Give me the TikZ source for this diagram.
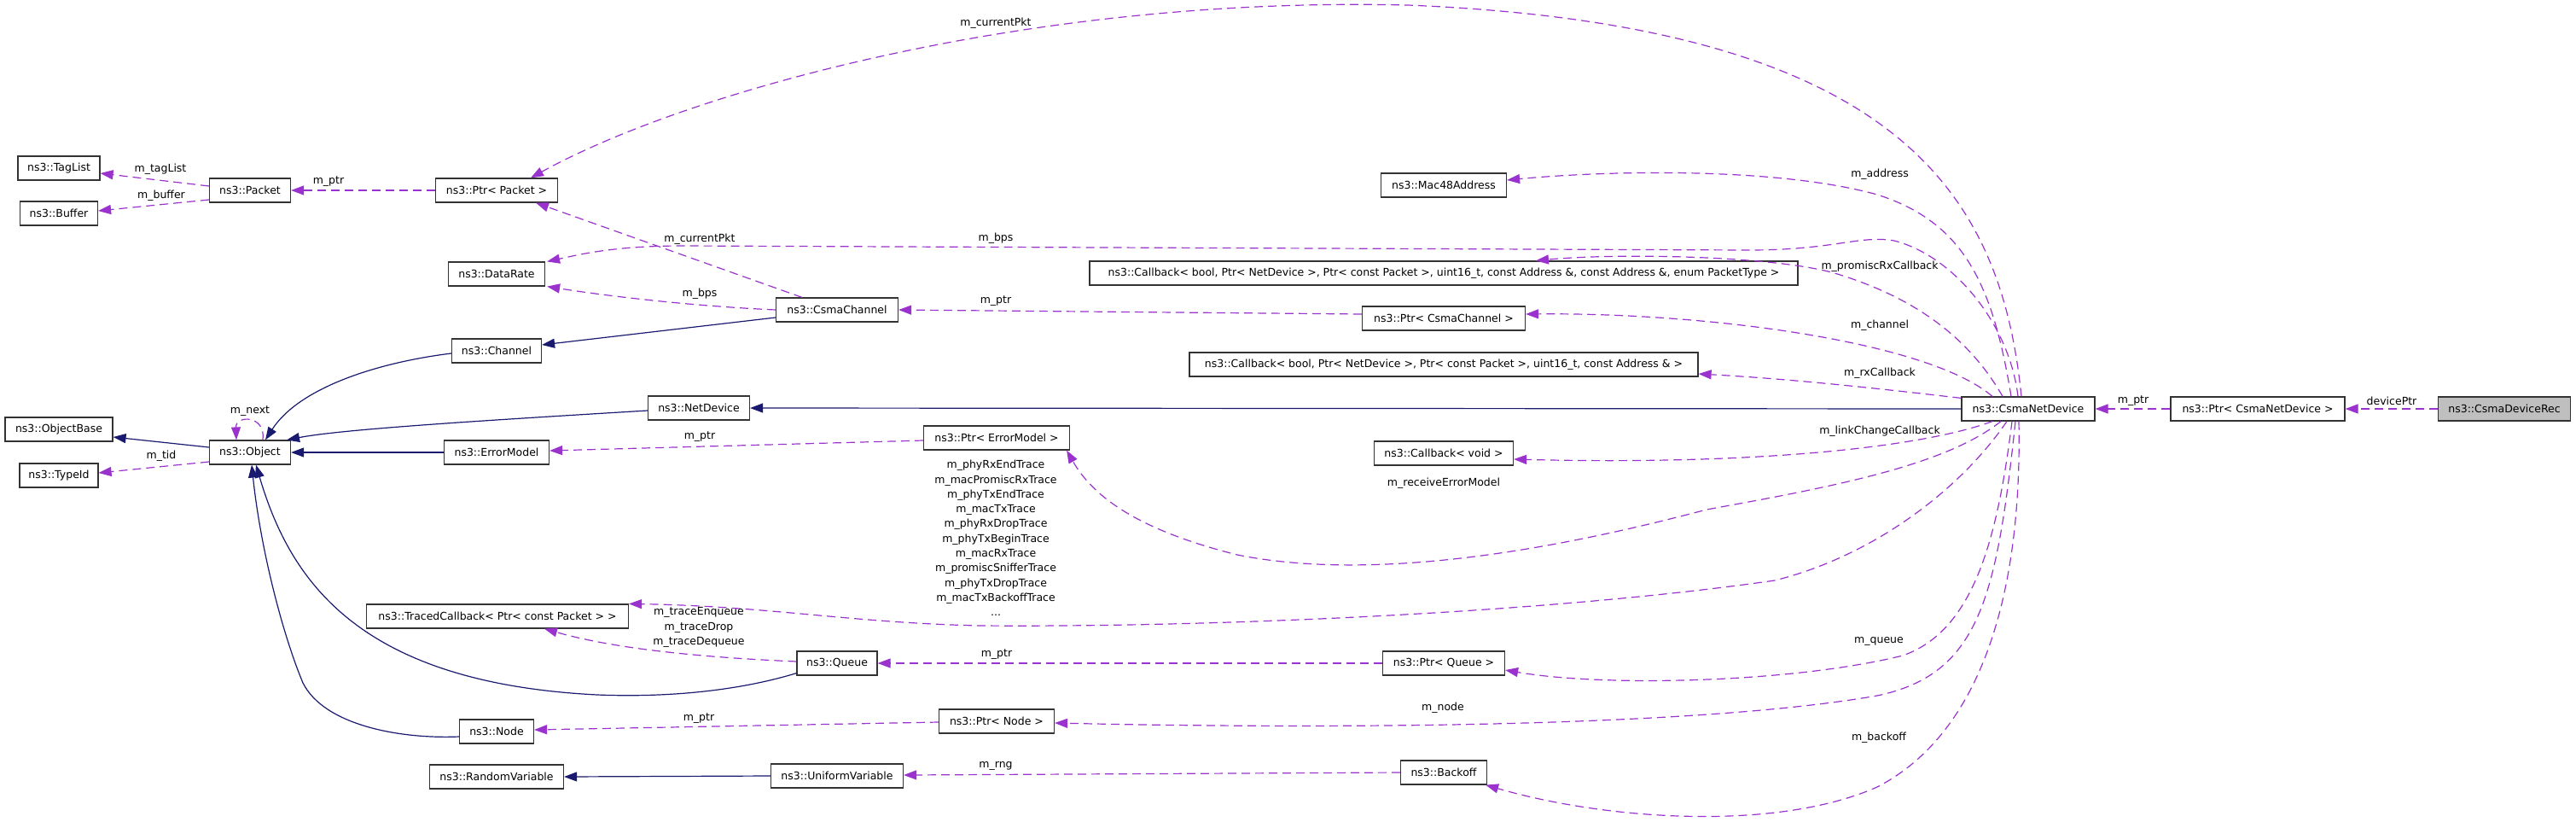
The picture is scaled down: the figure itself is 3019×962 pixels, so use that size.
\documentclass[tikz,border=0pt]{standalone}
\usepackage{fontspec}
\setmainfont{DejaVu Sans}
\usetikzlibrary{arrows.meta}
\definecolor{edgepurple}{HTML}{9A32CD}
\definecolor{inhblue}{HTML}{191970}
\definecolor{recgray}{HTML}{BFBFBF}
\begin{document}
\begin{tikzpicture}[x=1pt, y=-1pt,
  every node/.style={font=\fontsize{12.5}{17.3}\selectfont},
  cls/.style={draw=black!80, line width=1.2pt, minimum height=28pt, inner sep=2pt, fill=white},
  lbl/.style={inner sep=0pt, align=center},
  inh/.style={draw=inhblue, line width=1.2pt, -{Triangle[length=15pt,width=11pt]}},
  ptr/.style={draw=edgepurple, line width=1.2pt, dash pattern=on 10pt off 6pt, -{Triangle[length=15pt,width=11pt]}}]
  \useasboundingbox (0,0) rectangle (3019,962);
  \node [cls, minimum width=96pt] (taglist) at (69,197) {ns3::TagList};
  \node [cls, minimum width=91pt] (buffer) at (69,250) {ns3::Buffer};
  \node [cls, minimum width=95pt] (packet) at (293,223) {ns3::Packet};
  \node [cls, minimum width=143pt] (ptrpkt) at (582,223) {ns3::Ptr< Packet >};
  \node [cls, minimum width=126pt] (objbase) at (69,503) {ns3::ObjectBase};
  \node [cls, minimum width=95pt] (object) at (293,530) {ns3::Object};
  \node [cls, minimum width=92pt] (typeid) at (69,557) {ns3::TypeId};
  \node [cls, minimum width=113pt] (datarate) at (582,321) {ns3::DataRate};
  \node [cls, minimum width=143pt] (csmachan) at (981,363) {ns3::CsmaChannel};
  \node [cls, minimum width=105pt] (chan) at (582,411) {ns3::Channel};
  \node [cls, minimum width=119pt] (netdev) at (819,478) {ns3::NetDevice};
  \node [cls, minimum width=123pt] (errmodel) at (582,530) {ns3::ErrorModel};
  \node [cls, minimum width=171pt] (ptrerr) at (1168,513) {ns3::Ptr< ErrorModel >};
  \node [cls, minimum width=307pt] (traced) at (583,722) {ns3::TracedCallback< Ptr< const Packet > >};
  \node [cls, minimum width=94pt] (queue) at (981,777) {ns3::Queue};
  \node [cls, minimum width=87pt] (node) at (582,857) {ns3::Node};
  \node [cls, minimum width=157pt] (randvar) at (582,910) {ns3::RandomVariable};
  \node [cls, minimum width=155pt] (univar) at (981,909) {ns3::UniformVariable};
  \node [cls, minimum width=147pt] (mac48) at (1692,217) {ns3::Mac48Address};
  \node [cls, minimum width=830pt] (cbpromisc) at (1692,320) {ns3::Callback< bool, Ptr< NetDevice >, Ptr< const Packet >, uint16\_t, const Address \&, const Address \&, enum PacketType >};
  \node [cls, minimum width=191pt] (ptrchan) at (1692,373) {ns3::Ptr< CsmaChannel >};
  \node [cls, minimum width=596pt] (cbrx) at (1692,427) {ns3::Callback< bool, Ptr< NetDevice >, Ptr< const Packet >, uint16\_t, const Address \& >};
  \node [cls, minimum width=163pt] (cbvoid) at (1692,531) {ns3::Callback< void >};
  \node [cls, minimum width=143pt] (ptrqueue) at (1692,777) {ns3::Ptr< Queue >};
  \node [cls, minimum width=135pt] (ptrnode) at (1168,845) {ns3::Ptr< Node >};
  \node [cls, minimum width=101pt] (backoff) at (1692,905) {ns3::Backoff};
  \node [cls, minimum width=156pt] (dev) at (2377,479) {ns3::CsmaNetDevice};
  \node [cls, minimum width=204pt] (ptrdev) at (2646,479) {ns3::Ptr< CsmaNetDevice >};
  \node [cls, minimum width=155pt, fill=recgray] (rec) at (2935,479) {ns3::CsmaDeviceRec};
  \draw [inh] ([yshift=6pt]object.west) -- ([yshift=-9pt]objbase.east);
  \draw [inh] ([yshift=-3pt]chan.west) .. controls (440,425) and (350,455) .. ([xshift=18pt]object.north);
  \draw [inh] ([yshift=-3pt]netdev.west) .. controls (560,493) and (400,503) .. ([xshift=-5pt]object.north east);
  \draw [inh] (errmodel.west) -- (object.east);
  \draw [inh] ([yshift=3pt]queue.south west) .. controls (880,805) and (800,818) .. (700,814) .. controls (420,800) and (340,680) .. ([xshift=7pt]object.south);
  \draw [inh] ([yshift=-6pt]node.west) .. controls (470,866) and (380,850) .. (355,800) .. controls (330,740) and (305,640) .. ([xshift=2pt]object.south);
  \draw [inh] (dev.west) -- (netdev.east);
  \draw [inh] ([yshift=-9pt]csmachan.west) -- ([yshift=7pt]chan.east);
  \draw [inh] (univar.west) -- (randvar.east);
  \draw [ptr] ([yshift=5pt]packet.west) -- ([yshift=-6pt]taglist.east);
  \draw [ptr] ([yshift=-11pt]packet.west) -- ([yshift=3pt]buffer.east);
  \draw [ptr] (ptrpkt.west) -- (packet.east);
  \draw [ptr] ([xshift=15pt]object.north) .. controls (312,486) and (276,486) .. ([xshift=-16pt]object.north);
  \draw [ptr] ([yshift=-11pt]object.west) -- ([yshift=3pt]typeid.east);
  \draw [ptr] ([xshift=-41pt]csmachan.north) -- ([xshift=46pt]ptrpkt.south);
  \draw [ptr] (csmachan.west) .. controls (800,358) and (700,345) .. ([xshift=2pt]datarate.south east);
  \draw [ptr] ([xshift=-12pt]dev.north) .. controls (2355,380) and (2290,300) .. (2220,282) .. controls (2180,275) and (2150,293) .. (2050,293) -- (800,288) .. controls (720,288) and (680,298) .. ([xshift=2pt]datarate.north east);
  \draw [ptr] ([xshift=-8pt]dev.north) .. controls (2345,230) and (2230,30) .. (1650,6) .. controls (1200,-5) and (800,110) .. ([xshift=40pt]ptrpkt.north);
  \draw [ptr] ([xshift=-20pt]dev.north) .. controls (2335,330) and (2300,260) .. (2200,228) .. controls (2080,195) and (1880,200) .. ([yshift=6pt]mac48.east);
  \draw [ptr] ([xshift=-30pt]dev.north) .. controls (2310,400) and (2250,350) .. (2150,320) .. controls (2080,300) and (1900,296) .. ([xshift=108pt]cbpromisc.north);
  \draw [ptr] ([xshift=-42pt]dev.north) .. controls (2260,400) and (2000,366) .. ([yshift=5pt]ptrchan.east);
  \draw [ptr] ([yshift=-2pt]dev.north west) .. controls (2200,455) and (2100,444) .. ([yshift=-11pt]cbrx.east);
  \draw [ptr] ([yshift=5pt]ptrchan.west) -- (csmachan.east);
  \draw [ptr] ([yshift=-3pt]ptrerr.west) -- ([yshift=2pt]errmodel.east);
  \draw [ptr] ([xshift=-42pt]dev.south) .. controls (2250,525) and (2050,545) .. ([yshift=-7pt]cbvoid.east);
  \draw [ptr] ([xshift=-32pt]dev.south) .. controls (2280,545) and (2150,570) .. (2000,597) .. controls (1800,650) and (1600,680) .. (1450,650) .. controls (1330,620) and (1280,580) .. ([xshift=-4pt]ptrerr.south east);
  \draw [ptr] ([xshift=-25pt]dev.south) .. controls (2300,570) and (2200,650) .. (2080,680) .. controls (1800,720) and (1400,735) .. (1150,733) .. controls (1000,730) and (900,710) .. (traced.north east);
  \draw [ptr] ([yshift=2pt]queue.west) .. controls (820,770) and (720,760) .. ([xshift=55pt]traced.south);
  \draw [ptr] ([xshift=-19pt]dev.south) .. controls (2340,640) and (2310,740) .. (2230,768) .. controls (2100,800) and (1880,805) .. ([yshift=-8pt]ptrqueue.east);
  \draw [ptr] (ptrqueue.west) -- (queue.east);
  \draw [ptr] ([xshift=-15pt]dev.south) .. controls (2340,700) and (2320,790) .. (2200,815) .. controls (2000,850) and (1600,855) .. ([yshift=-2pt]ptrnode.east);
  \draw [ptr] ([yshift=-1pt]ptrnode.west) -- ([yshift=2pt]node.east);
  \draw [ptr] ([xshift=-11pt]dev.south) .. controls (2370,700) and (2320,860) .. (2200,922) .. controls (2080,975) and (1880,960) .. ([xshift=-2pt]backoff.south east);
  \draw [ptr] (backoff.west) -- ([yshift=1pt]univar.east);
  \draw [ptr] (ptrdev.west) -- (dev.east);
  \draw [ptr] (rec.west) -- (ptrdev.east);
  \node [lbl] (l1) at (1167,27) {m\_currentPkt};
  \node [lbl] (l2) at (188,198) {m\_tagList};
  \node [lbl] (l3) at (189,229) {m\_buffer};
  \node [lbl] (l4) at (385,213) {m\_ptr};
  \node [lbl] (l5) at (2203,204) {m\_address};
  \node [lbl] (l6) at (820,280) {m\_currentPkt};
  \node [lbl] (l7) at (1167,279) {m\_bps};
  \node [lbl] (l8) at (2203,312) {m\_promiscRxCallback};
  \node [lbl] (l9) at (820,344) {m\_bps};
  \node [lbl] (l10) at (1167,353) {m\_ptr};
  \node [lbl] (l11) at (2203,381) {m\_channel};
  \node [lbl] (l12) at (2203,437) {m\_rxCallback};
  \node [lbl] (l13) at (2500,470) {m\_ptr};
  \node [lbl] (l14) at (2803,470) {devicePtr};
  \node [lbl] (l15) at (293,482) {m\_next};
  \node [lbl] (l16) at (2203,505) {m\_linkChangeCallback};
  \node [lbl] (l17) at (820,512) {m\_ptr};
  \node [lbl] (l18) at (189,534) {m\_tid};
  \node [lbl] (l19) at (1692,566) {m\_receiveErrorModel};
  \node [lbl, anchor=north] (l20) at (1167,539) {m\_phyRxEndTrace\\m\_macPromiscRxTrace\\m\_phyTxEndTrace\\m\_macTxTrace\\m\_phyRxDropTrace\\m\_phyTxBeginTrace\\m\_macRxTrace\\m\_promiscSnifferTrace\\m\_phyTxDropTrace\\m\_macTxBackoffTrace\\...};
  \node [lbl] (l21) at (819,735) {m\_traceEnqueue\\m\_traceDrop\\m\_traceDequeue};
  \node [lbl] (l22) at (2202,751) {m\_queue};
  \node [lbl] (l23) at (1168,767) {m\_ptr};
  \node [lbl] (l24) at (1691,829) {m\_node};
  \node [lbl] (l25) at (819,842) {m\_ptr};
  \node [lbl] (l26) at (2202,864) {m\_backoff};
  \node [lbl] (l27) at (1167,897) {m\_rng};
\end{tikzpicture}
\end{document}
